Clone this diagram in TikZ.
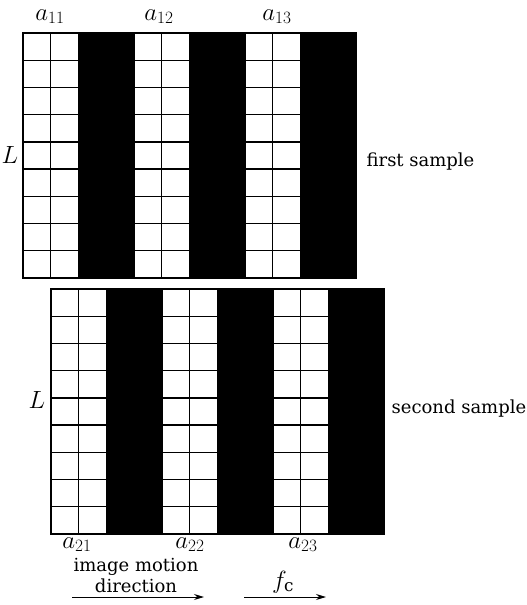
\documentclass[tikz,border=0pt]{standalone}
\usepackage{fontspec}
\setmainfont{DejaVu Serif}
\usetikzlibrary{arrows.meta}
\begin{document}
\begin{tikzpicture}[x=1pt,y=-1pt,line width=1.3pt,
  lab/.style={font=\fontsize{18}{21}\selectfont,inner sep=0pt},
  sym/.style={font=\fontsize{24}{26}\selectfont,inner sep=0pt},
  mot/.style={-{Stealth[length=10pt,width=6pt]},line width=1pt},
  sample/.pic={
    % three periods: two white columns of cells, then a black band
    \foreach \k in {0,1,2}{
      \fill (111*\k+55.5,0) rectangle ++(55.5,245);
      \foreach \c in {0,1}{
        \foreach \r in {0,...,8}{
          \draw (111*\k+27.75*\c,27.222*\r) rectangle ++(27.75,27.222);
        }
      }
    }
    \draw (0,0) rectangle (333,245);
  }]
\useasboundingbox (0,0) rectangle (527,605);

% first sample
\pic at (23,33) {sample};
\node[sym,anchor=base] (a11) at (50,20) {$a_{11}$};
\node[sym,anchor=base] (a12) at (159,20) {$a_{12}$};
\node[sym,anchor=base] (a13) at (277,20) {$a_{13}$};
\node[sym] (L1) at (10,155) {$L$};
\node[lab,anchor=base west] (s1) at (366,166) {first sample};

% second sample, shifted by one cell
\pic at (51,289) {sample};
\node[sym,anchor=base] (a21) at (77,548) {$a_{21}$};
\node[sym,anchor=base] (a22) at (190,548) {$a_{22}$};
\node[sym,anchor=base] (a23) at (303,548) {$a_{23}$};
\node[sym] (L2) at (37,400) {$L$};
\node[lab,anchor=base west] (s2) at (391,413) {second sample};

% motion arrows
\node[lab,align=center,anchor=base] (dir) at (136,592) {image motion\\direction};
\coordinate (m1) at (72,597);
\coordinate (m2) at (204,597);
\draw[mot] (m1) -- (m2);
\node[sym,anchor=base] (fc) at (283,588) {$f_{\mathrm{c}}$};
\coordinate (f1) at (244,597);
\coordinate (f2) at (326,597);
\draw[mot] (f1) -- (f2);
\end{tikzpicture}
\end{document}
